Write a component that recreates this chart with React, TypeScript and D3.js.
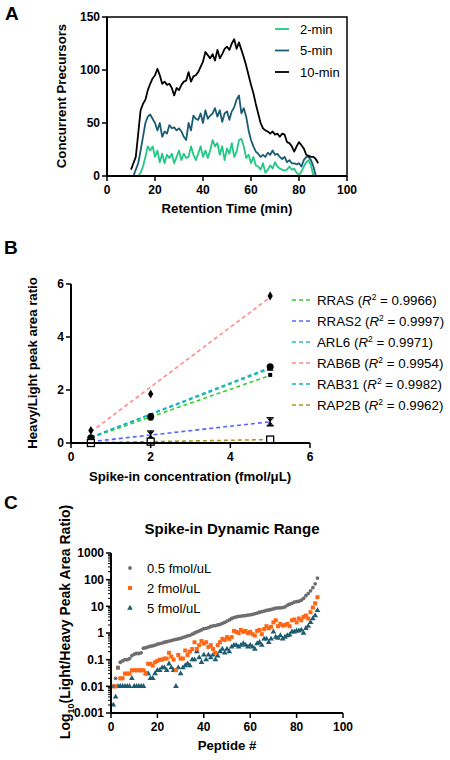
import React from "react";
import * as d3 from "d3";

// ---------- Panel A data ----------
const timeBlack = d3.range(10, 89);
const black10 = [6,12,18,40,62,68,72,81,87,92,95,101,95,87,89,86,87,83,76,83,81,86,89,90,98,89,94,95,98,103,108,117,114,111,115,109,119,111,115,120,122,119,125,129,120,126,119,112,104,95,86,78,68,59,50,45,43,42,40,42,39,40,37,40,39,32,31,28,23,28,32,29,26,20,19,18,18,16,12];
const timeTeal = d3.range(11, 88);
const teal5 = [0,6,12,24,37,50,56,58,54,50,43,50,37,42,40,48,45,46,43,45,42,37,34,50,43,57,54,53,59,50,62,54,57,59,64,56,62,51,59,61,53,61,65,72,76,59,64,56,43,34,28,23,21,18,20,18,22,20,24,20,21,18,16,18,13,15,12,12,11,12,9,15,18,18,15,9,0];
const timeGreen = d3.range(12, 87);
const green2 = [0,0,3,9,18,28,24,28,18,24,13,21,12,20,17,21,12,18,24,15,21,17,18,28,20,15,21,28,18,24,17,24,34,28,31,20,28,15,26,21,31,18,23,34,35,28,17,20,12,18,10,9,6,12,3,6,10,7,13,9,7,6,5,6,9,6,7,3,1,4,9,13,15,10,0];
const seriesA = ["2-min", "5-min", "10-min"];
const ticksAX = [0, 20, 40, 60, 80, 100];
const ticksAY = [0, 50, 100, 150];

// ---------- Panel B data ----------
const concB = [0.5, 2, 5];
const proteinsB = ["RRAS", "RRAS2", "ARL6", "RAB6B", "RAB31", "RAP2B"];
const r2B = ["0.9966", "0.9997", "0.9971", "0.9954", "0.9982", "0.9962"];
const fitStartB = [0.2, 0.05, 0.21, 0.42, 0.22, 0.01];
const fitEndB = [2.55, 0.8, 2.8, 5.5, 2.85, 0.13];
const pointsRRAS = [0.15, 0.92, 2.57];
const pointsRRAS2 = [0.05, 0.3, 0.8];
const pointsARL6 = [0.12, 0.97, 2.8];
const pointsRAB6B = [0.47, 1.85, 5.55];
const pointsRAB31 = [0.2, 1.0, 2.88];
const pointsRAP2B = [0.0, 0.05, 0.13];
const ticksBX = [0, 2, 4, 6];
const ticksBY = [0, 2, 4, 6];

// ---------- Panel C data ----------
const gray05 = [0.01,0.02,0.05,0.08,0.09,0.1,0.1,0.11,0.14,0.16,0.17,0.17,0.18,0.27,0.28,0.3,0.32,0.33,0.35,0.38,0.4,0.42,0.45,0.47,0.5,0.52,0.55,0.58,0.6,0.63,0.68,0.72,0.78,0.82,0.9,1.0,1.1,1.2,1.3,1.45,1.5,1.6,1.75,1.85,1.9,2.0,2.1,2.3,2.5,2.8,3.1,3.5,3.8,4.0,4.2,4.3,4.4,4.5,4.7,4.8,5.0,5.3,5.6,6.0,6.3,6.6,7.0,7.3,7.6,8.0,8.5,8.7,8.8,9,9.5,11,12,13,14.5,15,15.5,17,20,25,30,38,50,70,115];
const orange2 = [0.01,0.01,0.05,0.02,0.02,0.03,0.03,0.03,0.04,0.04,0.04,0.04,0.04,0.04,0.03,0.07,0.07,0.06,0.08,0.09,0.1,0.1,0.11,0.11,0.18,0.13,0.1,0.04,0.15,0.11,0.11,0.22,0.15,0.2,0.25,0.45,0.25,0.35,0.5,0.4,0.45,0.3,0.35,0.25,0.18,0.35,0.45,0.6,0.55,0.7,0.6,0.7,1.2,1.1,1.0,1.3,1.1,1.2,1.0,1.1,0.9,0.8,1.2,1.3,0.9,1.4,1.8,1.5,1.7,2.5,3.0,1.8,2.2,1.9,2.0,2.2,1.8,3.0,3.2,2.5,3.5,3.0,4.0,4.5,3.5,6,9,13,22];
const teal5C = [0.002,0.004,0.01,0.01,0.01,0.01,0.01,0.01,0.02,0.01,0.01,0.01,0.01,0.01,0.03,0.03,0.02,0.02,0.03,0.04,0.04,0.05,0.05,0.04,0.07,0.05,0.04,0.01,0.05,0.03,0.05,0.06,0.07,0.06,0.1,0.1,0.2,0.12,0.08,0.15,0.1,0.15,0.12,0.15,0.1,0.14,0.2,0.25,0.18,0.25,0.2,0.3,0.35,0.35,0.3,0.35,0.4,0.35,0.3,0.35,0.3,0.25,0.4,0.45,0.35,0.6,0.6,0.45,0.6,1.1,0.7,0.65,0.8,0.6,0.7,0.8,0.85,1.1,1.1,1.2,1.2,1.3,1.0,1.5,1.8,2.5,3.5,4.5,7];
const seriesC = ["0.5 fmol/uL", "2 fmol/uL", "5 fmol/uL"];
const ticksCX = [0, 20, 40, 60, 80, 100];
const ticksCY = [0.001, 0.01, 0.1, 1, 10, 100, 1000];
const tickLabelsCY = ["0.001", "0.01", "0.1", "1", "10", "100", "1000"];

const FONT = "'Liberation Sans', Arial, sans-serif";
const colA = ["#22c885", "#1b5c72", "#000000"];
const colB = ["#33cc33", "#5566ff", "#22c795", "#ff8a8a", "#1aaecb", "#a09a22"];
const colC = ["#6e6e6e", "#ff6614", "#1d5c70"];
const TICK_FS = 12;
const TITLE_FS = 13.2;
const LEG_FS = 13;

function XAxis({ scale, ticks, y, labels }: any) {
  const [r0, r1] = scale.range();
  return (
    <g>
      <line x1={r0} x2={r1} y1={y} y2={y} stroke="#000" strokeWidth={2} />
      {ticks.map((t: number, i: number) => (
        <g key={i}>
          <line x1={scale(t)} x2={scale(t)} y1={y} y2={y + 5} stroke="#000" strokeWidth={1.5} />
          <text x={scale(t)} y={y + 17.5} textAnchor="middle" fontSize={TICK_FS} fontWeight="bold">
            {labels ? labels[i] : t}
          </text>
        </g>
      ))}
    </g>
  );
}

function YAxis({ scale, ticks, x, labels, minor }: any) {
  const [r0, r1] = scale.range();
  return (
    <g>
      <line x1={x} x2={x} y1={r0} y2={r1} stroke="#000" strokeWidth={2} />
      {(minor || []).map((t: number, i: number) => (
        <line key={"m" + i} x1={x - 3} x2={x} y1={scale(t)} y2={scale(t)} stroke="#000" strokeWidth={1} />
      ))}
      {ticks.map((t: number, i: number) => (
        <g key={i}>
          <line x1={x - 5} x2={x} y1={scale(t)} y2={scale(t)} stroke="#000" strokeWidth={1.5} />
          <text x={x - 7} y={scale(t) + 4.2} textAnchor="end" fontSize={TICK_FS} fontWeight="bold">
            {labels ? labels[i] : t}
          </text>
        </g>
      ))}
    </g>
  );
}

function PanelA() {
  const x = d3.scaleLinear().domain([0, 100]).range([107, 347]);
  const y = d3.scaleLinear().domain([0, 150]).range([176, 17]);
  const line = d3.line<[number, number]>().x((d) => x(d[0])).y((d) => y(d[1]));
  const sets: [number[], number[]][] = [
    [timeGreen, green2],
    [timeTeal, teal5],
    [timeBlack, black10],
  ];
  return (
    <g>
      <text x={5} y={20} fontSize={19} fontWeight="bold">A</text>
      {sets.map(([t, v], i) => (
        <path key={i} d={line(t.map((tt, j) => [tt, v[j]]) as any) || ""} fill="none" stroke={colA[i]} strokeWidth={1.8} strokeLinejoin="round" />
      ))}
      <rect x={107} y={17} width={240} height={159} fill="none" stroke="#000" strokeWidth={1.5} />
      <XAxis scale={x} ticks={ticksAX} y={176} />
      <YAxis scale={y} ticks={ticksAY} x={107} />
      {seriesA.map((s, i) => (
        <g key={s}>
          <line x1={275} x2={289} y1={29 + i * 21.5} y2={29 + i * 21.5} stroke={colA[i]} strokeWidth={1.8} />
          <text x={300} y={33.5 + i * 21.5} fontSize={LEG_FS}>{s}</text>
        </g>
      ))}
      <text x={227} y={213} textAnchor="middle" fontSize={TITLE_FS} fontWeight="bold">Retention Time (min)</text>
      <text transform="translate(66,96) rotate(-90)" textAnchor="middle" fontSize={TITLE_FS} fontWeight="bold">Concurrent Precursors</text>
    </g>
  );
}

function PanelB() {
  const x = d3.scaleLinear().domain([0, 6]).range([71, 310]);
  const y = d3.scaleLinear().domain([0, 6]).range([443, 284]);
  const pts = [pointsRRAS, pointsRRAS2, pointsARL6, pointsRAB6B, pointsRAB31, pointsRAP2B];
  const marker = (k: number, cx: number, cy: number, key: string) => {
    if (k === 0) return <rect key={key} x={cx - 2} y={cy - 2} width={4} height={4} fill="#000" />;
    if (k === 1)
      return (
        <g key={key}>
          <line x1={cx} x2={cx} y1={cy - 4} y2={cy + 4} stroke="#000" strokeWidth={1.5} />
          <line x1={cx - 3.5} x2={cx + 3.5} y1={cy - 4} y2={cy - 4} stroke="#000" strokeWidth={1.5} />
          <line x1={cx - 3.5} x2={cx + 3.5} y1={cy + 4} y2={cy + 4} stroke="#000" strokeWidth={1.5} />
          <path d={`M${cx - 3},${cy - 3}L${cx + 3},${cy - 3}L${cx},${cy}Z M${cx - 3},${cy + 3}L${cx + 3},${cy + 3}L${cx},${cy}Z`} fill="#000" />
        </g>
      );
    if (k === 2) return <path key={key} d={d3.symbol(d3.symbolTriangle, 20)() || ""} transform={`translate(${cx},${cy})`} fill="#000" />;
    if (k === 3) return <path key={key} d={d3.symbol(d3.symbolDiamond, 24)() || ""} transform={`translate(${cx},${cy})`} fill="#000" />;
    if (k === 4) return <circle key={key} cx={cx} cy={cy} r={3.5} fill="#000" />;
    return <rect key={key} x={cx - 3.5} y={cy - 3.5} width={7} height={7} fill="#fff" stroke="#000" strokeWidth={1.3} />;
  };
  return (
    <g>
      <text x={4} y={254} fontSize={19} fontWeight="bold">B</text>
      {proteinsB.map((p, i) => (
        <line key={p} x1={x(0.5)} x2={x(5)} y1={y(fitStartB[i])} y2={y(fitEndB[i])} stroke={colB[i]} strokeWidth={1.6} strokeDasharray="4,3" />
      ))}
      {pts.map((arr, k) => arr.map((v, j) => marker(k, x(concB[j]), y(v), k + "-" + j)))}
      <XAxis scale={x} ticks={ticksBX} y={443} />
      <YAxis scale={y} ticks={ticksBY} x={71} />
      {proteinsB.map((p, i) => (
        <g key={p}>
          <line x1={292} x2={310} y1={300 + i * 21} y2={300 + i * 21} stroke={colB[i]} strokeWidth={1.6} strokeDasharray="4,3" />
          <text x={317} y={304.5 + i * 21} fontSize={13.3}>
            {p} (<tspan fontStyle="italic">R</tspan>
            <tspan fontSize={8.5} dy={-5}>2</tspan>
            <tspan dy={5}> = {r2B[i]})</tspan>
          </text>
        </g>
      ))}
      <text x={190} y={481} textAnchor="middle" fontSize={TITLE_FS} fontWeight="bold">Spike-in concentration (fmol/μL)</text>
      <text transform="translate(37,363) rotate(-90)" textAnchor="middle" fontSize={TITLE_FS} fontWeight="bold">Heavy/Light peak area ratio</text>
    </g>
  );
}

function PanelC() {
  const x = d3.scaleLinear().domain([0, 100]).range([111, 343]);
  const y = d3.scaleLog().domain([0.001, 1000]).range([713, 553]);
  const minor: number[] = [];
  for (let e = -3; e < 3; e++) for (let m = 2; m < 10; m++) minor.push(m * Math.pow(10, e));
  const tri = d3.symbol(d3.symbolTriangle, 14)() || "";
  const data = [gray05, orange2, teal5C];
  const mk = (k: number, cx: number, cy: number, key: string) => {
    if (k === 0) return <circle key={key} cx={cx} cy={cy} r={1.9} fill={colC[0]} />;
    if (k === 1) return <rect key={key} x={cx - 2} y={cy - 2} width={4} height={4} fill={colC[1]} />;
    return <path key={key} d={tri} transform={`translate(${cx},${cy})`} fill={colC[2]} />;
  };
  return (
    <g>
      <text x={4} y={509} fontSize={19} fontWeight="bold">C</text>
      <text x={232} y={534} textAnchor="middle" fontSize={15} fontWeight="bold">Spike-in Dynamic Range</text>
      {[2, 1, 0].map((k) => data[k].map((v, j) => mk(k, x(j + 1), y(v), k + "-" + j)))}
      <XAxis scale={x} ticks={ticksCX} y={713} />
      <YAxis scale={y} ticks={ticksCY} x={111} labels={tickLabelsCY} minor={minor} />
      {seriesC.map((s, i) => (
        <g key={s}>
          {mk(i, 130, 568 + i * 20, "leg" + i)}
          <text x={147} y={572.5 + i * 20} fontSize={LEG_FS}>{s}</text>
        </g>
      ))}
      <text x={227} y={750} textAnchor="middle" fontSize={TITLE_FS} fontWeight="bold">Peptide #</text>
      <text transform="translate(70,622) rotate(-90)" textAnchor="middle" fontSize={14} fontWeight="bold">
        Log<tspan fontSize={9} dy={4}>10</tspan><tspan dy={-4}>(Light/Heavy Peak Area Ratio)</tspan>
      </text>
    </g>
  );
}

export default function App() {
  return (
    <svg width={450} height={760} style={{ position: "absolute", left: 0, top: 0, background: "#fff" }} fontFamily={FONT}>
      <rect width={450} height={760} fill="#fff" />
      <PanelA />
      <PanelB />
      <PanelC />
    </svg>
  );
}
